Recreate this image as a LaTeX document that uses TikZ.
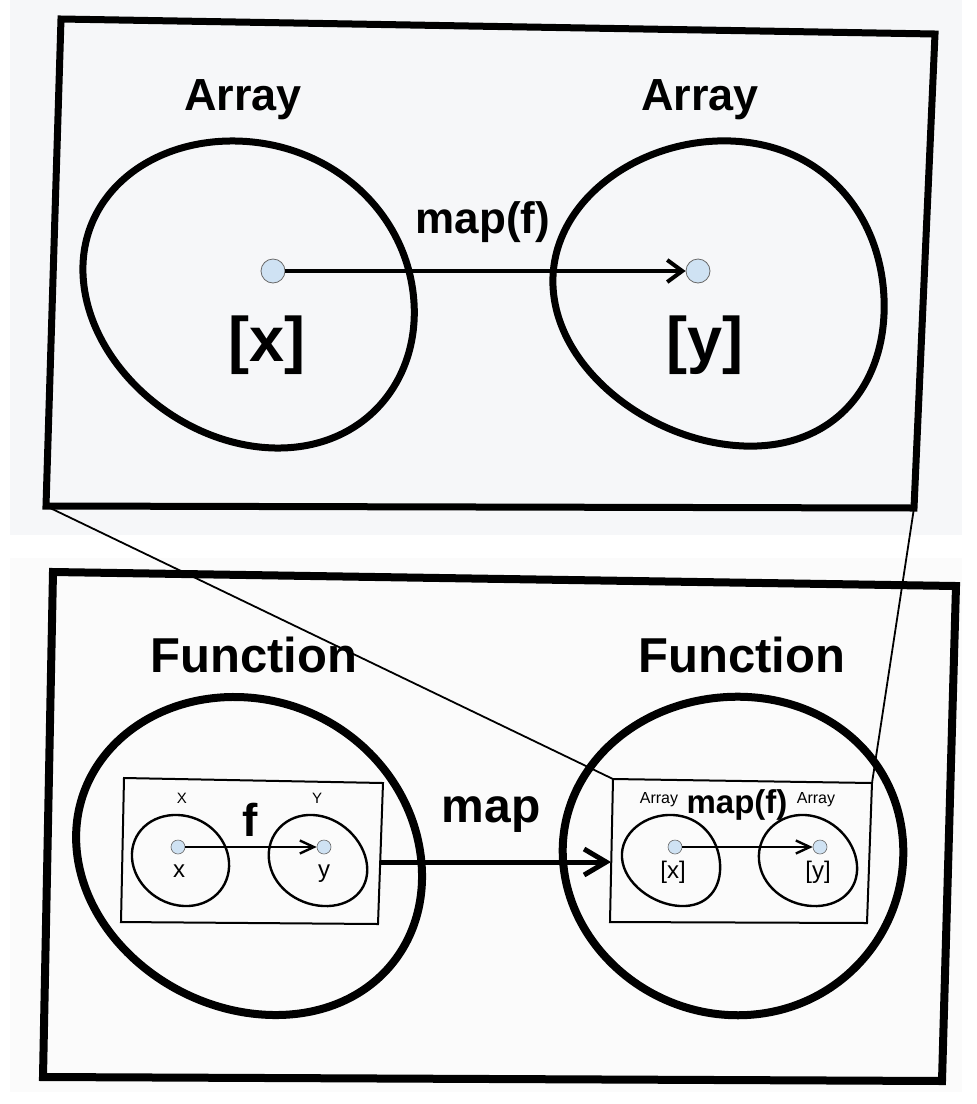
\documentclass[tikz,border=0pt]{standalone}
\usepackage{fontspec}
\setmainfont{Liberation Sans}
\usetikzlibrary{arrows.meta}
\definecolor{panelbg}{RGB}{246,247,249}
\definecolor{checkbg}{RGB}{251,251,251}
\definecolor{dotfill}{RGB}{207,226,243}
\definecolor{dotline}{RGB}{105,105,105}

\begin{document}
\begin{tikzpicture}[
  x=1pt, y=-1pt,
  every node/.style={inner sep=0pt},
  frame/.style={line width=7pt, line join=miter},
  blob/.style={line width=7pt},
  smallblob/.style={line width=2.4pt},
  box/.style={line width=2pt},
  zoomline/.style={line width=1.8pt},
  dot/.style={circle, draw=dotline, fill=dotfill, line width=0.8pt, minimum size=24pt},
  smalldot/.style={circle, draw=dotline, fill=dotfill, line width=0.6pt, minimum size=14pt},
  maparrow/.style={line width=4pt, -{Straight Barb[length=15pt, width=22pt]}},
  bigarrow/.style={line width=5pt, -{Straight Barb[length=22pt, width=26pt]}},
  farrow/.style={line width=2.4pt, -{Straight Barb[length=14pt, width=13pt]}},
  txt/.style={font=\fontsize{#1}{#1}\selectfont\bfseries},
  thin/.style={font=\fontsize{#1}{#1}\selectfont},
]
\useasboundingbox (0,0) rectangle (977,1104);
% panels
\fill[panelbg] (10,0) rectangle (962,535);
\fill[checkbg] (10,558) rectangle (962,1092);
\draw[frame] (61,19) -- (935,34) -- (914,508) -- (46,506) -- cycle;
\draw[frame, line width=8pt] (53,572) -- (956,586) -- (942,1081) -- (43,1077) -- cycle;
\coordinate (top-sw) at (46,506);
\coordinate (top-se) at (914,508);

% upper picture: arrays
\draw[blob] plot[smooth cycle, tension=1] coordinates {(236,141) (413,292) (275,448) (84,286)};
\draw[blob] plot[smooth cycle, tension=1] coordinates {(731,141) (884,298) (744,446) (553,286)};
\node[txt=45] (arr-l) at (243,100) {Array};
\node[txt=45] (arr-r) at (700,100) {Array};
\node[txt=63] (xs) at (267,345) {[x]};
\node[txt=63] (ys) at (705,345) {[y]};
\node[dot] (xdot) at (273,271) {};
\node[dot] (ydot) at (698,271) {};
\draw[maparrow] (xdot) -- (ydot);
\node[txt=44] (mapf) at (483,222) {map(f)};

% lower picture: functions
\node[txt=49] (fun-l) at (254,655) {Function};
\node[txt=49] (fun-r) at (742,655) {Function};
\draw[blob, line width=8pt] plot[smooth cycle, tension=1] coordinates {(237,697) (421,858) (273,1015) (77,853)};
\draw[blob, line width=8pt] plot[smooth cycle, tension=1] coordinates {(727,697) (903,842) (747,1015) (563,860)};

% function f inside the left one
\draw[box] (124,778) -- (383,783) -- (378,924) -- (121,922) -- cycle;
\coordinate (fbox-e) at (380,862);
\draw[smallblob] plot[smooth cycle, tension=1] coordinates {(178,815) (229,862) (184,906) (132,858)};
\draw[smallblob] plot[smooth cycle, tension=1] coordinates {(313,815) (367,865) (323,906) (269,860)};
\node[thin=15] (setx) at (182,798) {X};
\node[thin=15] (sety) at (317,798) {Y};
\node[txt=46] (fname) at (250,820) {f};
\node[thin=24] (elx) at (179,871) {x};
\node[thin=24] (ely) at (324,874) {y};
\node[smalldot] (fx) at (178,847) {};
\node[smalldot] (fy) at (324,847) {};
\draw[farrow] (fx) -- (fy);

% map(f) inside the right one
\draw[box] (613,779) -- (872,783) -- (867,923) -- (610,922) -- cycle;
\coordinate (mbox-nw) at (613,779);
\coordinate (mbox-ne) at (872,783);
\coordinate (mbox-w) at (611,862);
\draw[smallblob] plot[smooth cycle, tension=1] coordinates {(673,815) (720,863) (680,906) (622,858)};
\draw[smallblob] plot[smooth cycle, tension=1] coordinates {(805,815) (857,865) (812,906) (759,860)};
\node[thin=16] (sarr-l) at (659,800) {Array};
\node[thin=16] (sarr-r) at (816,800) {Array};
\node[txt=33] (smapf) at (737,805) {map(f)};
\node[thin=24] (sxs) at (673,872) {[x]};
\node[thin=24] (sys) at (818,872) {[y]};
\node[smalldot] (mx) at (675,847) {};
\node[smalldot] (my) at (820,847) {};
\draw[farrow] (mx) -- (my);

% map between the functions
\draw[bigarrow] (fbox-e) -- (mbox-w);
\node[txt=48] (mapname) at (491,815) {map};

% zoom lines
\draw[zoomline] (top-sw) -- (mbox-nw);
\draw[zoomline] (top-se) -- (mbox-ne);
\end{tikzpicture}
\end{document}
